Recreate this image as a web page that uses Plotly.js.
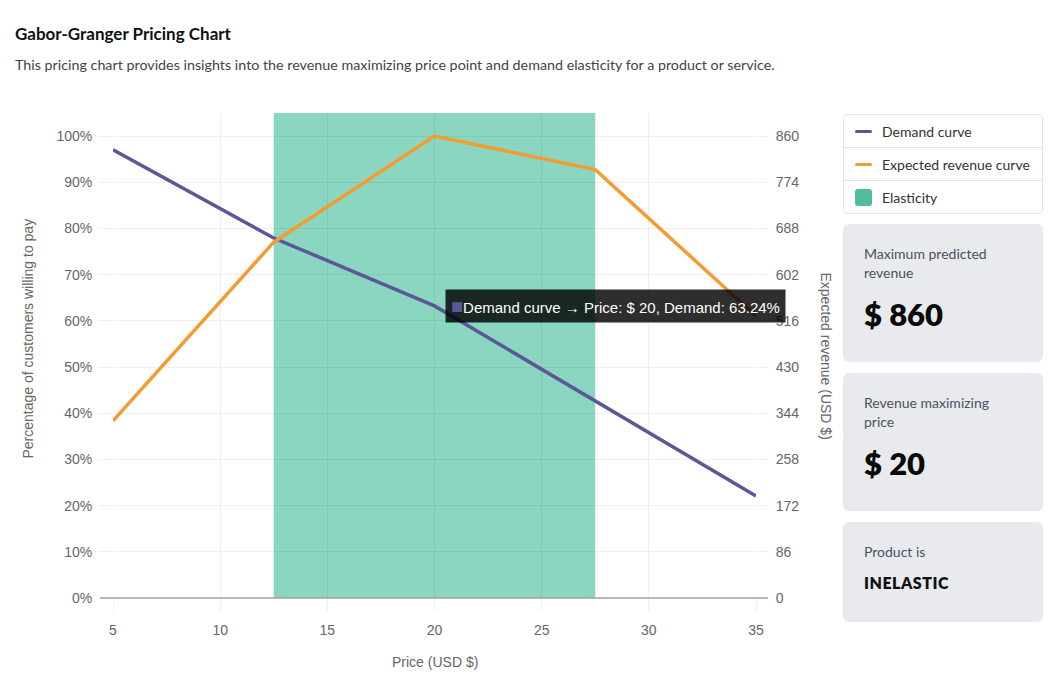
<!DOCTYPE html>
<html>
<head>
<meta charset="utf-8">
<script src="https://cdn.plot.ly/plotly-3.0.1.min.js"></script>
<style>
  html, body { margin: 0; padding: 0; background: #fff; }
  body { width: 1052px; height: 673px; position: relative; overflow: hidden; font-family: Lato, "Noto Sans", sans-serif; }
  #chart { position: absolute; left: 0; top: 0; width: 1052px; height: 673px; }
  .title { position: absolute; left: 15px; top: 23px; font-size: 17px; font-weight: 700; color: #111; }
  .subtitle { position: absolute; left: 15px; top: 56px; font-size: 14.3px; color: #444; }
  .legend { position: absolute; left: 843px; top: 114px; width: 198px; border: 1px solid #e3e3e6; border-radius: 5px; background: #fff; }
  .legend .row { height: 32px; display: flex; align-items: center; font-size: 14px; color: #333; border-top: 1px solid #e3e3e6; }
  .legend .row:first-child { border-top: none; }
  .legend .sw-line { width: 17px; height: 3px; border-radius: 2px; margin: 0 10px 0 11px; }
  .legend .sw-box { width: 17px; height: 17px; border-radius: 3px; margin: 0 10px 0 11px; }
  .card { position: absolute; left: 843px; width: 200px; background: #e9eaee; border-radius: 6px; box-sizing: border-box; padding: 20px 20px 0 21px; }
  .card .lbl { font-size: 14px; color: #4a5161; line-height: 19px; width: 140px; }
  .card .val { font-size: 31px; font-weight: 800; color: #0b0b0b; margin-top: 13px; }
  .card .word { font-size: 16px; font-weight: 800; color: #111; margin-top: 12px; letter-spacing: 0.5px; }
</style>
</head>
<body>
<div id="chart"></div>
<div class="title">Gabor-Granger Pricing Chart</div>
<div class="subtitle">This pricing chart provides insights into the revenue maximizing price point and demand elasticity for a product or service.</div>
<div class="legend">
  <div class="row"><span class="sw-line" style="background:#5c5897"></span>Demand curve</div>
  <div class="row"><span class="sw-line" style="background:#f39c33"></span>Expected revenue curve</div>
  <div class="row"><span class="sw-box" style="background:#52bb9e"></span>Elasticity</div>
</div>
<div class="card" style="top:224px;height:138px;"><div class="lbl">Maximum predicted revenue</div><div class="val" id="maxrev"></div></div>
<div class="card" style="top:373px;height:138px;"><div class="lbl">Revenue maximizing price</div><div class="val" id="maxprice"></div></div>
<div class="card" style="top:522px;height:100px;"><div class="lbl">Product is</div><div class="word">INELASTIC</div></div>
<script>
// ---- data ----
const prices = [5, 12.5, 20, 27.5, 35];
const demandPct = [97.06, 77.94, 63.24, 42.65, 22.06];
const revenue = [330, 662.5, 860, 797.5, 525];
const elasticityRange = [12.5, 27.5];
const leftTicks = [0, 10, 20, 30, 40, 50, 60, 70, 80, 90, 100];
const rightTicks = [0, 86, 172, 258, 344, 430, 516, 602, 688, 774, 860];
const xTicks = [5, 10, 15, 20, 25, 30, 35];

const maxIdx = revenue.indexOf(Math.max(...revenue));
document.getElementById('maxrev').textContent = '$ ' + revenue[maxIdx];
document.getElementById('maxprice').textContent = '$ ' + prices[maxIdx];

const purple = '#5c5897', orange = '#f39c33';
const fam = 'Liberation Sans, Arial, sans-serif';
const tickFont = {family: fam, size: 14, color: '#666'};
const grid = 'rgba(0,0,0,0.06)';

const traces = [
  {x: prices, y: demandPct, type: 'scatter', mode: 'lines', name: 'Demand curve',
   line: {color: purple, width: 3.5}, yaxis: 'y', hoverinfo: 'skip'},
  {x: prices, y: revenue, type: 'scatter', mode: 'lines', name: 'Expected revenue curve',
   line: {color: orange, width: 3.5}, yaxis: 'y2', hoverinfo: 'skip'}
];

const layout = {
  width: 1052, height: 673,
  margin: {l: 113, r: 296, t: 113, b: 75},
  paper_bgcolor: 'rgba(0,0,0,0)', plot_bgcolor: '#fff',
  showlegend: false, hovermode: false,
  xaxis: {range: [5, 35], tickvals: xTicks, ticktext: xTicks.map(String), showgrid: true, gridcolor: grid,
          ticks: 'outside', ticklen: 13, tickcolor: grid, tickfont: tickFont, zeroline: false, showline: false,
          ticklabelstandoff: 6},
  yaxis: {range: [0, 105], tickvals: leftTicks, ticktext: leftTicks.map(v => v + '%'), showgrid: true, gridcolor: grid,
          ticks: 'outside', ticklen: 13, tickcolor: grid, tickfont: tickFont, zeroline: false, showline: false,
          ticklabelstandoff: 4},
  yaxis2: {range: [0, 860 * 1.05], overlaying: 'y', side: 'right', tickvals: rightTicks, ticktext: rightTicks.map(String),
           showgrid: false, ticks: 'outside', ticklen: 12, tickcolor: grid, tickfont: tickFont, zeroline: false, showline: false,
           ticklabelstandoff: 4},
  shapes: [
    {type: 'rect', xref: 'x', yref: 'paper', x0: elasticityRange[0], x1: elasticityRange[1], y0: 0, y1: 1,
     fillcolor: 'rgba(62,186,150,0.6)', line: {width: 0}, layer: 'below'},
    {type: 'line', xref: 'paper', yref: 'paper', x0: -0.0202, x1: 1.0187, y0: 0, y1: 0,
     line: {color: '#a0a0a0', width: 1.5}}
  ],
  annotations: [
    {xref: 'paper', yref: 'paper', x: 0, y: 0.535, xshift: -95, showarrow: false, textangle: -90,
     text: 'Percentage of customers willing to pay', font: {family: fam, size: 14, color: '#666'}},
    {xref: 'paper', yref: 'paper', x: 1, y: 0.5, xshift: 80, showarrow: false, textangle: 90,
     text: 'Expected revenue (USD $)', font: {family: fam, size: 14, color: '#666'}},
    {xref: 'paper', yref: 'paper', x: 0.5, y: 0, yshift: -74, showarrow: false,
     text: 'Price (USD $)', font: {family: fam, size: 14, color: '#666'}},
    {xref: 'x', yref: 'y', x: prices[maxIdx], y: demandPct[maxIdx], xanchor: 'left', yanchor: 'middle', xshift: 10,
     showarrow: false, bgcolor: 'rgba(0,0,0,0.82)', borderpad: 5,
     text: '<span style="color:' + purple + ';font-size:20px">■</span>Demand curve → Price: $ ' + prices[maxIdx] + ', Demand: ' + demandPct[maxIdx] + '%',
     font: {family: fam, size: 15, color: '#fff'}}
  ]
};

Plotly.newPlot('chart', traces, layout, {displayModeBar: false, staticPlot: true});
</script>
</body>
</html>
